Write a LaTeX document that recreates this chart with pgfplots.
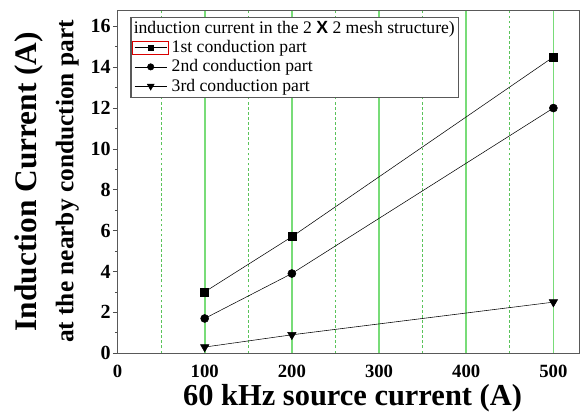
\documentclass[border=0pt]{standalone}
\usepackage{fontspec}
\setmainfont{Liberation Serif}
\newfontfamily\xsans{Liberation Sans}
\usepackage{pgfplots}
\pgfplotsset{compat=1.18}
\begin{document}
\begin{tikzpicture}
\begin{axis}[
    scale only axis,
    width=346pt, height=257pt,
    xmin=0, xmax=530,
    ymin=0, ymax=16.8,
    clip=false,
    xtick={0,100,...,500},
    minor xtick={50,150,...,450},
    ytick={0,2,...,16},
    minor y tick num=1,
    ytick pos=left,
    xtick pos=bottom,
    tick align=outside,
    major tick length=3.5pt,
    minor tick length=2pt,
    x tick style={draw=none},
    axis line style={draw=black!65, line width=0.7pt},
    y tick style={black!70, line width=0.6pt},
    xmajorgrids, xminorgrids,
    major grid style={draw={rgb,255:red,120;green,220;blue,120}, line width=1.3pt},
    minor grid style={draw={rgb,255:red,90;green,195;blue,90}, dash pattern=on 2pt off 1.8pt, line width=0.8pt},
    /pgf/number format/assume math mode=true,
    yticklabel style={font=\fontsize{15}{16}\selectfont\bfseries, inner sep=1.5pt},
    xticklabel style={font=\fontsize{14}{15}\selectfont\bfseries, inner sep=1pt, yshift=-4pt},
    xlabel={60 kHz source current (A)},
    xlabel style={font=\fontsize{22.8}{24}\selectfont\bfseries, at={(rel axis cs:0.5,0)}, anchor=base, yshift=-39pt, xshift=3pt},
    ylabel={Induction Current (A)},
    ylabel style={font=\fontsize{23.5}{25}\selectfont\bfseries, at={(rel axis cs:0,0.5)}, anchor=base, yshift=61pt},
    legend style={at={(0.028,0.98)}, anchor=north west, draw=black!65, line width=0.8pt,
        font=\fontsize{13.2}{15}\selectfont, inner sep=1pt, row sep=-0.3pt},
    legend cell align=left,
    legend image post style={line width=0.4pt},
]
\path (rel axis cs:0,1) ++(0,7.5pt);
\path (rel axis cs:0,0.5) ++(-88pt,0);
\node[rotate=90, anchor=base, yshift=33pt, font=\fontsize{19}{21}\selectfont\bfseries]
    at (rel axis cs:0,0.5) {at the nearby conduction part};
\addlegendimage{empty legend}
\addlegendentry{\hspace{-1cm}induction current in the 2 {\xsans\bfseries X} 2 mesh structure)}
\addplot[black, line width=0.4pt, mark=square*, mark size=3pt,
    legend image code/.code={
        \draw[red!85!black, line width=0.5pt] (0cm,-0.17cm) rectangle (0.95cm,0.17cm);
        \draw[mark repeat=2, mark phase=2, mark size=2pt] plot coordinates {(0.05cm,0cm) (0.475cm,0cm) (0.9cm,0cm)};
    }] coordinates {
(100,3.0) (200,5.7) (500,14.5)
};
\addlegendentry{1st conduction part}
\addplot[black, line width=0.4pt, mark=*, mark size=3pt,
    legend image code/.code={
        \draw[mark repeat=2, mark phase=2, mark size=2.4pt] plot coordinates {(0.05cm,0cm) (0.475cm,0cm) (0.9cm,0cm)};
    }] coordinates {
(100,1.7) (200,3.9) (500,12.0)
};
\addlegendentry{2nd conduction part}
\addplot[black, line width=0.4pt, mark=triangle*, mark size=3.6pt, mark options={rotate=180},
    legend image code/.code={
        \draw[mark repeat=2, mark phase=2, mark size=3pt] plot coordinates {(0.05cm,0cm) (0.475cm,0cm) (0.9cm,0cm)};
    }] coordinates {
(100,0.3) (200,0.9) (500,2.5)
};
\addlegendentry{3rd conduction part}
\end{axis}
\end{tikzpicture}
\end{document}
